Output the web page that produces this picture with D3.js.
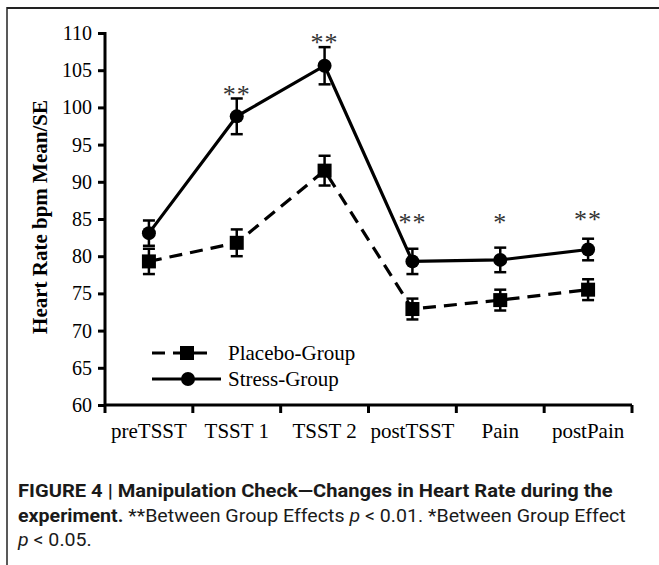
<!DOCTYPE html>
<html>
<head>
<meta charset="utf-8">
<script src="https://cdn.jsdelivr.net/npm/d3@7"></script>
<style>
  html, body { margin: 0; padding: 0; background: #fff; }
  svg { display: block; }
</style>
</head>
<body>
<svg id="chart" width="659" height="565"></svg>
<script>
// ---- data ----
const categories = ["preTSST", "TSST 1", "TSST 2", "postTSST", "Pain", "postPain"];
const placeboMean = [79.3, 81.8, 91.5, 72.9, 74.1, 75.5];
const placeboSE   = [1.7, 1.8, 2.0, 1.4, 1.4, 1.4];
const stressMean  = [83.1, 98.8, 105.6, 79.3, 79.5, 80.9];
const stressSE    = [1.7, 2.4, 2.5, 1.7, 1.65, 1.45];
const significance = ["", "**", "**", "**", "*", "**"];
const sigLevel     = [null, 102.3, 109.3, 85.1, 85.1, 85.5];
const yTicks = [60, 65, 70, 75, 80, 85, 90, 95, 100, 105, 110];
const seriesNames = ["Placebo-Group", "Stress-Group"];
const yTitle = "Heart Rate bpm Mean/SE";

const svg = d3.select("#chart");
const serif = "'Liberation Serif', 'Times New Roman', Times, serif";

// frame
svg.append("line").attr("x1", 7).attr("x2", 659).attr("y1", 8).attr("y2", 8)
  .attr("stroke", "#222").attr("stroke-width", 2);
svg.append("line").attr("x1", 7).attr("x2", 7).attr("y1", 7).attr("y2", 565)
  .attr("stroke", "#222").attr("stroke-width", 1.5);

const plotLeft = 105, plotRight = 632, plotTop = 33, plotBottom = 405;

const x = d3.scaleBand().domain(categories).range([plotLeft, plotRight]);
const y = d3.scaleLinear().domain([60, 110]).range([plotBottom, plotTop]);
const cx = c => x(c) + x.bandwidth() / 2;

// y axis
const yAxis = svg.append("g").attr("transform", `translate(${plotLeft},0)`)
  .call(d3.axisLeft(y).tickValues(yTicks).tickSize(7).tickPadding(6));
yAxis.select(".domain").attr("stroke", "#000").attr("stroke-width", 3)
  .attr("d", `M0,${plotTop - 1}V${plotBottom}`);
yAxis.selectAll(".tick line").attr("stroke", "#000").attr("stroke-width", 3);
yAxis.selectAll(".tick text").attr("font-family", serif).attr("font-size", 20)
  .attr("fill", "#000");

// x axis
const xAxis = svg.append("g").attr("transform", `translate(0,${plotBottom})`)
  .call(d3.axisBottom(x).tickSize(0).tickPadding(0));
xAxis.select(".domain").attr("stroke", "#000").attr("stroke-width", 3)
  .attr("d", `M${plotLeft - 1},0H${plotRight}`);
xAxis.selectAll(".tick line").remove();
xAxis.selectAll(".tick text").attr("font-family", serif).attr("font-size", 21)
  .attr("fill", "#000").attr("dy", null).attr("y", 33);
// x tick marks at category boundaries
const bounds = categories.map(c => x(c)).concat([x(categories[categories.length - 1]) + x.bandwidth()]);
xAxis.selectAll(".bound").data(bounds).enter().append("line")
  .attr("x1", d => d).attr("x2", d => d).attr("y1", 0).attr("y2", 8)
  .attr("stroke", "#000").attr("stroke-width", 3);

// y title
svg.append("text")
  .attr("transform", `translate(47,217) rotate(-90)`)
  .attr("text-anchor", "middle")
  .attr("font-family", serif).attr("font-weight", "bold").attr("font-size", 21)
  .text(yTitle);

const g = svg.append("g");

// lines
const line = d3.line().x(d => cx(d.c)).y(d => y(d.v));
const placeboData = categories.map((c, i) => ({ c, v: placeboMean[i], se: placeboSE[i] }));
const stressData = categories.map((c, i) => ({ c, v: stressMean[i], se: stressSE[i] }));

g.append("path").datum(placeboData).attr("d", line).attr("fill", "none")
  .attr("stroke", "#000").attr("stroke-width", 3.2).attr("stroke-dasharray", "13,8");
g.append("path").datum(stressData).attr("d", line).attr("fill", "none")
  .attr("stroke", "#000").attr("stroke-width", 3.2);

// error bars
function errorBars(data) {
  const eg = g.append("g");
  data.forEach(d => {
    const xc = cx(d.c);
    eg.append("line").attr("x1", xc).attr("x2", xc)
      .attr("y1", y(d.v + d.se)).attr("y2", y(d.v - d.se))
      .attr("stroke", "#000").attr("stroke-width", 2.5);
    [d.v + d.se, d.v - d.se].forEach(v => {
      eg.append("line").attr("x1", xc - 6).attr("x2", xc + 6)
        .attr("y1", y(v)).attr("y2", y(v))
        .attr("stroke", "#000").attr("stroke-width", 2.5);
    });
  });
}
errorBars(placeboData);
errorBars(stressData);

// markers
g.selectAll(".sq").data(placeboData).enter().append("rect")
  .attr("x", d => cx(d.c) - 7).attr("y", d => y(d.v) - 7)
  .attr("width", 14).attr("height", 14).attr("fill", "#000");
g.selectAll(".ci").data(stressData).enter().append("circle")
  .attr("cx", d => cx(d.c)).attr("cy", d => y(d.v)).attr("r", 7).attr("fill", "#000");

// significance stars
g.selectAll(".sig").data(categories.map((c, i) => ({ c, s: significance[i], l: sigLevel[i] })).filter(d => d.s))
  .enter().append("text")
  .attr("x", d => cx(d.c)).attr("y", d => y(d.l) + 13)
  .attr("text-anchor", "middle")
  .attr("font-family", serif).attr("font-size", 26).attr("fill", "#333")
  .attr("letter-spacing", 1)
  .text(d => d.s);

// legend
const legend = svg.append("g");
const legY = [353, 379];
legend.append("line").attr("x1", 152).attr("x2", 210).attr("y1", legY[0]).attr("y2", legY[0])
  .attr("stroke", "#000").attr("stroke-width", 3.2).attr("stroke-dasharray", "13,8");
legend.append("rect").attr("x", 180).attr("y", legY[0] - 7).attr("width", 14).attr("height", 14).attr("fill", "#000");
legend.append("line").attr("x1", 152).attr("x2", 221).attr("y1", legY[1]).attr("y2", legY[1])
  .attr("stroke", "#000").attr("stroke-width", 3.2);
legend.append("circle").attr("cx", 188).attr("cy", legY[1]).attr("r", 7).attr("fill", "#000");
seriesNames.forEach((n, i) => {
  legend.append("text").attr("x", 228).attr("y", legY[i] + 7)
    .attr("font-family", serif).attr("font-size", 21).text(n);
});

// caption
const sans = "'Liberation Sans Narrow', 'Roboto', 'Liberation Sans', Arial, sans-serif";
const cap = svg.append("g").attr("font-family", sans).attr("font-size", 19).attr("fill", "#1a1a1a");
function capLine(yb, parts, targetW) {
  const t = cap.append("text").attr("x", 0).attr("y", 0);
  parts.forEach(p => {
    t.append("tspan").attr("font-weight", p.b ? "bold" : "normal")
      .attr("font-style", p.i ? "italic" : "normal").text(p.t);
  });
  const w = t.node().getComputedTextLength();
  const sx = targetW ? targetW / w : 1;
  t.attr("transform", `translate(18,${yb}) scale(${sx},1)`);
  return sx;
}
capLine(497, [{ t: "FIGURE 4 | Manipulation Check\u2014Changes in Heart Rate during the", b: true }], 595);
const sx2 = capLine(522, [
  { t: "experiment.", b: true },
  { t: " **Between Group Effects " },
  { t: "p", i: true },
  { t: " < 0.01. *Between Group Effect" }
], 608);
const t3 = cap.append("text").attr("transform", `translate(18,546) scale(${sx2},1)`);
t3.append("tspan").attr("font-style", "italic").text("p");
t3.append("tspan").text(" < 0.05.");
</script>
</body>
</html>
